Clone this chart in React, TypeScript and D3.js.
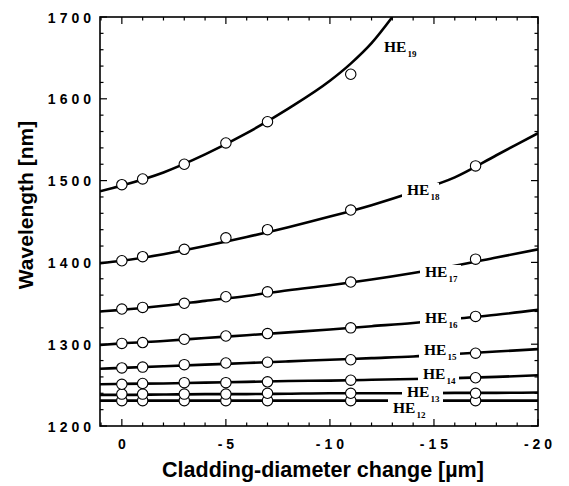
import React from "react";
import * as d3 from "d3";

// Measured points (markers)
const pointX = [0, -1, -3, -5, -7, -11, -17];
const he12Pts = [1231, 1231, 1231, 1231, 1231, 1231, 1231];
const he13Pts = [1239, 1239, 1239, 1239, 1240, 1240, 1240];
const he14Pts = [1251, 1252, 1253, 1253, 1254, 1256, 1259];
const he15Pts = [1271, 1272, 1275, 1277, 1278, 1281, 1289];
const he16Pts = [1301, 1302, 1306, 1310, 1313, 1320, 1334];
const he17Pts = [1343, 1345, 1350, 1358, 1364, 1376, 1404];
const he18Pts = [1402, 1407, 1416, 1430, 1440, 1464, 1518];
const he19PtX = [0, -1, -3, -5, -7, -11];
const he19Pts = [1495, 1502, 1520, 1546, 1572, 1630];

// Theoretical curves
const lineX = [1.05, 0, -2, -4, -6, -8, -10, -12, -14, -16, -18, -20];
const he12Line = [1231, 1231, 1231, 1231, 1231, 1231, 1231, 1231, 1231, 1231, 1231, 1231];
const he13Line = [1238, 1238, 1238.5, 1239, 1239, 1239.5, 1240, 1240, 1240, 1240.5, 1240.5, 1241];
const he14Line = [1251, 1251.5, 1252, 1253, 1254, 1255, 1255.5, 1256.5, 1257.5, 1258.5, 1260, 1262];
const he15Line = [1270, 1271, 1273, 1275, 1277, 1279, 1281, 1283, 1285, 1288, 1291, 1294];
const he16Line = [1299, 1301, 1304, 1307.5, 1311, 1314.5, 1318, 1322, 1326, 1331, 1336, 1342];
const he17Line = [1340, 1342, 1347, 1353, 1359, 1366, 1372, 1379, 1387, 1396, 1406, 1416];
const he18Line = [1399, 1402, 1410, 1420, 1431, 1443, 1456, 1470, 1486, 1504, 1531, 1558];
const he19LineX = [1.05, 0, -2, -4, -6, -8, -10, -11, -12, -13];
const he19Line = [1487, 1494, 1510, 1532, 1558, 1588, 1622, 1643, 1668, 1700];

const xTicks = [0, -5, -10, -15, -20];
const yTicks = [1200, 1300, 1400, 1500, 1600, 1700];

const modeNames = ["12", "13", "14", "15", "16", "17", "18", "19"];

const W = 569;
const H = 486;
const L = 100, T = 17, R = 538, B = 426;

export default function App() {
  const x = d3.scaleLinear().domain([1.05, -20]).range([L, R]);
  const y = d3.scaleLinear().domain([1200, 1700]).range([B, T]);
  const line = d3
    .line<[number, number]>()
    .x((d) => x(d[0]))
    .y((d) => y(d[1]))
    .curve(d3.curveMonotoneX);

  const curves = [
    { xs: lineX, ys: he12Line },
    { xs: lineX, ys: he13Line },
    { xs: lineX, ys: he14Line },
    { xs: lineX, ys: he15Line },
    { xs: lineX, ys: he16Line },
    { xs: lineX, ys: he17Line },
    { xs: lineX, ys: he18Line },
    { xs: he19LineX, ys: he19Line },
  ];
  const points = [
    { xs: pointX, ys: he12Pts },
    { xs: pointX, ys: he13Pts },
    { xs: pointX, ys: he14Pts },
    { xs: pointX, ys: he15Pts },
    { xs: pointX, ys: he16Pts },
    { xs: pointX, ys: he17Pts },
    { xs: pointX, ys: he18Pts },
    { xs: he19PtX, ys: he19Pts },
  ];
  // label placement: [x of "HE", baseline, mask?]
  const labelPos: [number, number, boolean][] = [
    [393, 413, true],
    [407, 397, true],
    [423, 379, true],
    [424, 355, true],
    [425, 323, true],
    [425, 277, true],
    [407, 195, true],
    [384, 52, false],
  ];

  const minorX = d3.range(1, -20.001, -1).filter((v) => v <= 1.05);
  const minorY = d3.range(1200, 1700.001, 20);

  return (
    <svg
      width={W}
      height={H}
      style={{ position: "absolute", left: 0, top: 0, background: "#fff" }}
    >
      <defs>
        <clipPath id="plotclip">
          <rect x={L} y={T} width={R - L} height={B - T} />
        </clipPath>
      </defs>
      <rect x={0} y={0} width={W} height={H} fill="#fff" />
      <g clipPath="url(#plotclip)">
        {curves.map((c, i) => (
          <path
            key={i}
            d={line(c.xs.map((v, j) => [v, c.ys[j]] as [number, number])) || ""}
            fill="none"
            stroke="#000"
            strokeWidth={2.6}
          />
        ))}
      </g>
      {labelPos.map(([lx, by, mask], i) =>
        mask ? (
          <rect
            key={"m" + i}
            x={lx - 5}
            y={i === 0 ? by - 15 : by - 12}
            width={i === 6 ? 37 : 41}
            height={i === 0 ? 22 : 19}
            fill="#fff"
          />
        ) : null
      )}
      {points.map((p, i) =>
        p.xs.map((v, j) => (
          <circle
            key={i + "-" + j}
            cx={x(v)}
            cy={y(p.ys[j])}
            r={5.2}
            fill="#fff"
            stroke="#000"
            strokeWidth={1.1}
          />
        ))
      )}
      {labelPos.map(([lx, by], i) => (
        <text
          key={"l" + i}
          x={lx}
          y={by}
          fontFamily="'Liberation Serif', serif"
          fontWeight="bold"
          fontSize={15.5}
          fill="#000"
        >
          HE
          <tspan fontSize={9} dx={1} dy={5}>
            {modeNames[i]}
          </tspan>
        </text>
      ))}
      {/* frame */}
      <rect x={L} y={T} width={R - L} height={B - T} fill="none" stroke="#000" strokeWidth={1.6} />
      {/* ticks */}
      {minorX.map((v) => {
        const major = xTicks.includes(v);
        const len = major ? 7 : 3.5;
        return (
          <g key={"xt" + v}>
            <line x1={x(v)} x2={x(v)} y1={B} y2={B - len} stroke="#000" strokeWidth={1.2} />
            <line x1={x(v)} x2={x(v)} y1={T} y2={T + len} stroke="#000" strokeWidth={1.2} />
          </g>
        );
      })}
      {minorY.map((v) => {
        const major = yTicks.includes(v);
        const len = major ? 7 : 3.5;
        return (
          <g key={"yt" + v}>
            <line x1={L} x2={L + len} y1={y(v)} y2={y(v)} stroke="#000" strokeWidth={1.2} />
            <line x1={R} x2={R - len} y1={y(v)} y2={y(v)} stroke="#000" strokeWidth={1.2} />
          </g>
        );
      })}
      {xTicks.map((v) => (
        <text
          key={"xl" + v}
          x={x(v) + 2}
          y={449}
          textAnchor="middle"
          fontFamily="'Liberation Sans', Arial, sans-serif"
          fontWeight="bold"
          fontSize={14}
          letterSpacing={4}
        >
          {String(v)}
        </text>
      ))}
      {yTicks.map((v) => (
        <text
          key={"yl" + v}
          x={95}
          y={y(v) + 5.5}
          textAnchor="end"
          fontFamily="'Liberation Sans', Arial, sans-serif"
          fontWeight="bold"
          fontSize={14}
          letterSpacing={4}
        >
          {String(v)}
        </text>
      ))}
      <text
        x={323}
        y={477}
        textAnchor="middle"
        fontFamily="'Liberation Sans', Arial, sans-serif"
        fontWeight="bold"
        fontSize={21.5}
      >
        Cladding-diameter change [µm]
      </text>
      <text
        transform={`translate(33, 205) rotate(-90)`}
        textAnchor="middle"
        fontFamily="'Liberation Sans', Arial, sans-serif"
        fontWeight="bold"
        fontSize={21}
      >
        Wavelength [nm]
      </text>
    </svg>
  );
}
